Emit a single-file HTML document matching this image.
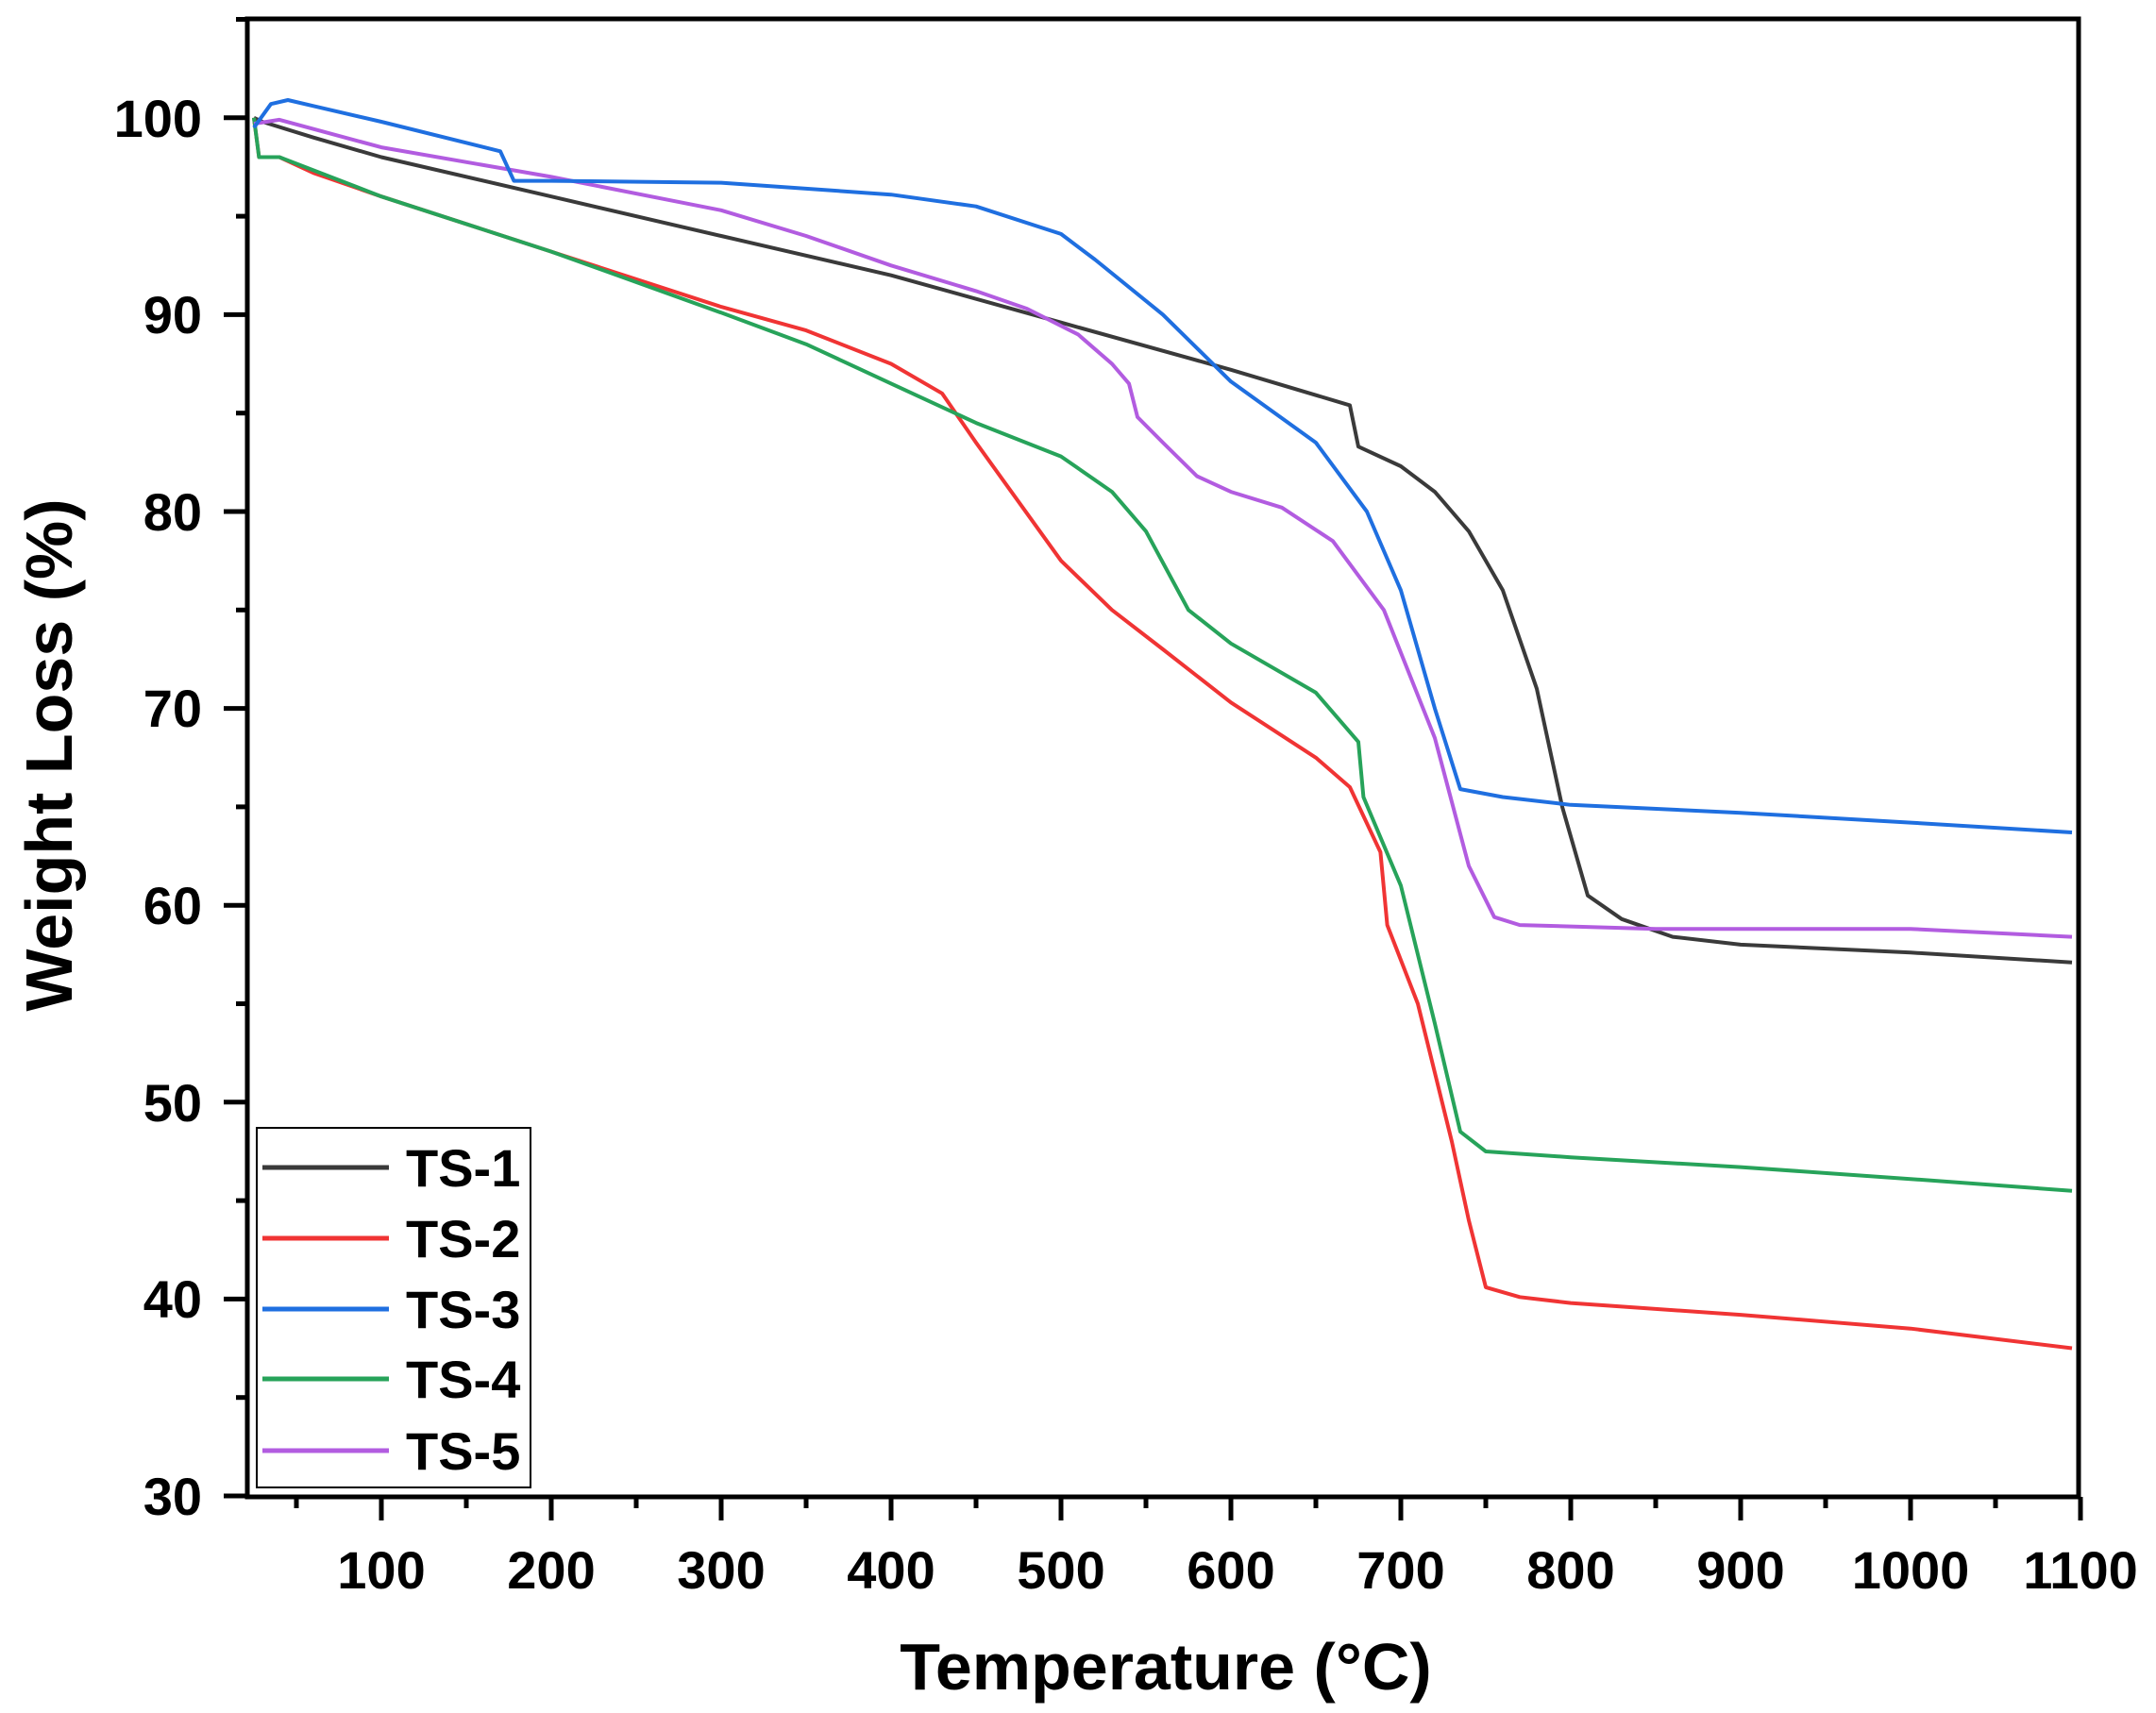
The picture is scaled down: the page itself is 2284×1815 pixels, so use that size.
<!DOCTYPE html>
<html><head><meta charset="utf-8"><style>
html,body{margin:0;padding:0;background:#fff;}
svg{display:block;font-family:"Liberation Sans",Arial,sans-serif;font-weight:bold;}
</style></head><body>
<svg id="s" width="2284" height="1815" viewBox="0 0 2284 1815" xmlns="http://www.w3.org/2000/svg">
<rect width="2284" height="1815" fill="#fff"/>
<g id="curves" fill="none" stroke-width="4" stroke-linejoin="round"></g>
<rect x="262" y="20" width="1940" height="1566" fill="none" stroke="#000" stroke-width="5"/>
<g id="ticks" stroke="#000" stroke-width="5"></g>
<g font-size="56" text-anchor="end" id="ylab">
<text x="214" y="1605">30</text><text x="214" y="1396">40</text><text x="214" y="1188">50</text>
<text x="214" y="979">60</text><text x="214" y="770">70</text><text x="214" y="562">80</text>
<text x="214" y="353">90</text><text x="214" y="145">100</text>
</g>
<g font-size="56" text-anchor="middle">
<text x="404" y="1683">100</text><text x="584" y="1683">200</text><text x="764" y="1683">300</text>
<text x="944" y="1683">400</text><text x="1124" y="1683">500</text><text x="1304" y="1683">600</text>
<text x="1484" y="1683">700</text><text x="1664" y="1683">800</text><text x="1844" y="1683">900</text>
<text x="2024" y="1683">1000</text><text x="2204" y="1683">1100</text>
</g>
<text x="1235" y="1790" font-size="70" text-anchor="middle">Temperature (°C)</text>
<text transform="translate(76,800) rotate(-90)" font-size="70" text-anchor="middle">Weight Loss (%)</text>
<rect x="272" y="1195" width="290" height="381" fill="#fff" stroke="#000" stroke-width="2"/>
<g stroke-width="5">
<line x1="278" y1="1237" x2="412" y2="1237" stroke="#3a3a3a"/>
<line x1="278" y1="1312" x2="412" y2="1312" stroke="#f03434"/>
<line x1="278" y1="1387" x2="412" y2="1387" stroke="#1f6fe0"/>
<line x1="278" y1="1461" x2="412" y2="1461" stroke="#27a35a"/>
<line x1="278" y1="1537" x2="412" y2="1537" stroke="#b25ce0"/>
</g>
<g font-size="56">
<text x="430" y="1257">TS-1</text><text x="430" y="1332">TS-2</text><text x="430" y="1407">TS-3</text>
<text x="430" y="1481">TS-4</text><text x="430" y="1557">TS-5</text>
</g>
</svg>
<script>
function X(t){return 404+(t-100)*1.8;}
function Y(w){return 1585-(w-30)*20.86;}
var data={
"#3a3a3a":[[25,100],[30,99.8],[60,99],[100,98],[200,96],[300,94],[400,92],[500,89.6],[600,87.2],[670,85.4],[675,83.3],[700,82.3],[720,81],[740,79],[760,76],[780,71],[795,65],[810,60.5],[830,59.3],[860,58.4],[900,58],[1000,57.6],[1095,57.1]],
"#f03434":[[25,100],[28,98],[40,98],[60,97.2],[100,96],[200,93.2],[300,90.4],[350,89.2],[400,87.5],[430,86],[450,83.5],[475,80.5],[500,77.5],[530,75],[560,73],[600,70.3],[650,67.5],[670,66],[688,62.7],[692,59],[710,55],[730,48],[740,44],[750,40.6],[770,40.1],[800,39.8],[900,39.2],[1000,38.5],[1095,37.5]],
"#27a35a":[[25,100],[28,98],[40,98],[100,96],[200,93.2],[300,90.1],[350,88.5],[400,86.5],[450,84.5],[500,82.8],[530,81],[550,79],[575,75],[600,73.3],[650,70.8],[675,68.3],[678,65.5],[700,61],[720,54],[735,48.5],[750,47.5],[800,47.2],[900,46.7],[1000,46.1],[1095,45.5]],
"#b25ce0":[[25,99.7],[40,99.9],[100,98.5],[200,97],[300,95.3],[350,94],[400,92.5],[450,91.2],[480,90.3],[510,89],[530,87.5],[540,86.5],[545,84.8],[560,83.5],[580,81.8],[600,81],[630,80.2],[660,78.5],[690,75],[720,68.5],[740,62],[755,59.4],[770,59],[850,58.8],[1000,58.8],[1095,58.4]],
"#1f6fe0":[[25,99.5],[35,100.7],[45,100.9],[60,100.6],[100,99.8],[170,98.3],[178,96.8],[200,96.8],[300,96.7],[400,96.1],[450,95.5],[500,94.1],[520,92.8],[560,90],[600,86.6],[650,83.5],[680,80],[700,76],[720,70],[735,65.9],[760,65.5],[800,65.1],[900,64.7],[1000,64.2],[1095,63.7]]
};
var ns="http://www.w3.org/2000/svg",g=document.getElementById("curves");
for(var c in data){var p=document.createElementNS(ns,"polyline");
p.setAttribute("points",data[c].map(function(d){return X(d[0]).toFixed(1)+","+Y(d[1]).toFixed(1)}).join(" "));
p.setAttribute("stroke",c);g.appendChild(p);}
var tk=document.getElementById("ticks");
function L(a,b,c,d){var l=document.createElementNS(ns,"line");l.setAttribute("x1",a);l.setAttribute("y1",b);l.setAttribute("x2",c);l.setAttribute("y2",d);tk.appendChild(l);}
for(var t=50;t<=1100;t+=50){var x=X(t),maj=t%100==0;L(x,1586,x,1586+(maj?25:12));}
for(var w=30;w<=105;w+=5){var y=Y(w),maj=w%10==0;L(262,y,262-(maj?25:12),y);}
</script>
</body></html>
